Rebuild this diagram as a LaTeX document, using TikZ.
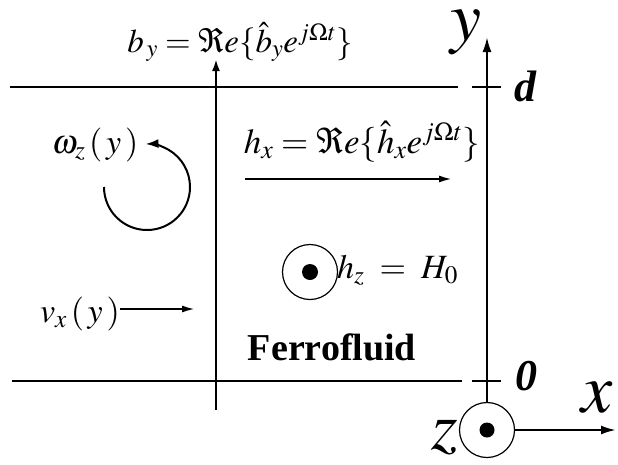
\documentclass[tikz,border=0pt]{standalone}
\usepackage{mathptmx}
\usepackage{fontspec}
\setmainfont{Liberation Serif}
\usetikzlibrary{arrows.meta}
\tikzset{
  wall/.style={line width=2.4pt},
  vec/.style={line width=2pt,-{Latex[length=13pt,width=7pt]}},
  axis/.style={line width=2.2pt,-{Latex[length=15pt,width=9pt]}},
  lbl/.style={inner sep=0pt,font=\fontsize{34}{40}\selectfont},
  big/.style={inner sep=0pt,font=\fontsize{70}{80}\selectfont},
  bnum/.style={inner sep=0pt,font=\fontsize{44}{50}\selectfont\bfseries\itshape},
  tick/.style={line width=1.2pt}
}
\begin{document}
\begin{tikzpicture}[x=1pt,y=-1pt]
\useasboundingbox (0,0) rectangle (618,464);
% walls
\coordinate (tl) at (10,87); \coordinate (tr) at (458,87);
\coordinate (bl) at (12,381); \coordinate (br) at (462,381);
\draw[wall] (tl) -- (tr);
\draw[wall] (bl) -- (br);
% ticks
\coordinate (dt1) at (472,87); \coordinate (dt2) at (501,87);
\coordinate (zt1) at (472,381); \coordinate (zt2) at (501,381);
\draw[tick] (dt1) -- (dt2);
\draw[tick] (zt1) -- (zt2);
\node[bnum] (d) at (525,86) {d};
\node[bnum] (zero) at (526,376) {0};
% coordinate frame
\node[circle,draw,line width=1.2pt,minimum size=55pt,inner sep=0pt] (zc) at (487,430) {};
\fill (zc.center) circle (7.5);
\coordinate (ytop) at (487,37);
\coordinate (xend) at (616,430);
\draw[axis] (zc.north) -- (ytop);
\draw[axis] (zc.east) -- (xend);
\node[big] (ylab) at (466,32) {$y$};
\node[big] (xlab) at (597,398) {$x$};
\node[big,font=\fontsize{68}{76}\selectfont] (zlab) at (445,437) {$z$};
% b_y line
\coordinate (bbot) at (216,410);
\coordinate (btop) at (216,59);
\draw[line width=2.3pt,-{Latex[length=12pt,width=8pt]}] (bbot) -- (btop);
\node[lbl,font=\fontsize{33}{40}\selectfont,anchor=base] (blab) at (240,52) {$b_{\,y}=\Re e\{\hat{b}_y e^{j\Omega t}\}$};
% h_x
\node[lbl,font=\fontsize{35}{40}\selectfont,anchor=base] (hlab) at (362,153) {$h_x=\Re e\{\hat{h}_x e^{j\Omega t}\}$};
\coordinate (h1) at (245,179); \coordinate (h2) at (452,179);
\draw[vec] (h1) -- (h2);
% omega
\node[lbl,anchor=base] (om) at (95,153) {$\omega_z\,(\,y\,)$};
\coordinate (oc) at (147,187);
\draw[line width=2pt,-{Latex[length=13pt,width=9pt]}] ([shift={(180:43)}]oc) arc[start angle=180,end angle=-92,radius=43];
% h_z
\node[circle,draw,line width=1.2pt,minimum size=55pt,inner sep=0pt] (hz) at (310,272) {};
\fill (hz.center) circle (8);
\node[lbl,anchor=base west] (hzlab) at (337,278) {$h_z\;=\;H_0$};
% v_x
\node[lbl,anchor=base east] (vlab) at (120,322) {$v_x\,(\,y\,)$};
\coordinate (v2) at (195,309);
\draw[vec] (vlab.east |- v2) -- (v2);
% ferrofluid
\node[inner sep=0pt,font=\fontsize{38}{44}\selectfont\bfseries,anchor=base] (ff) at (332,360) {Ferrofluid};
\end{tikzpicture}
\end{document}
